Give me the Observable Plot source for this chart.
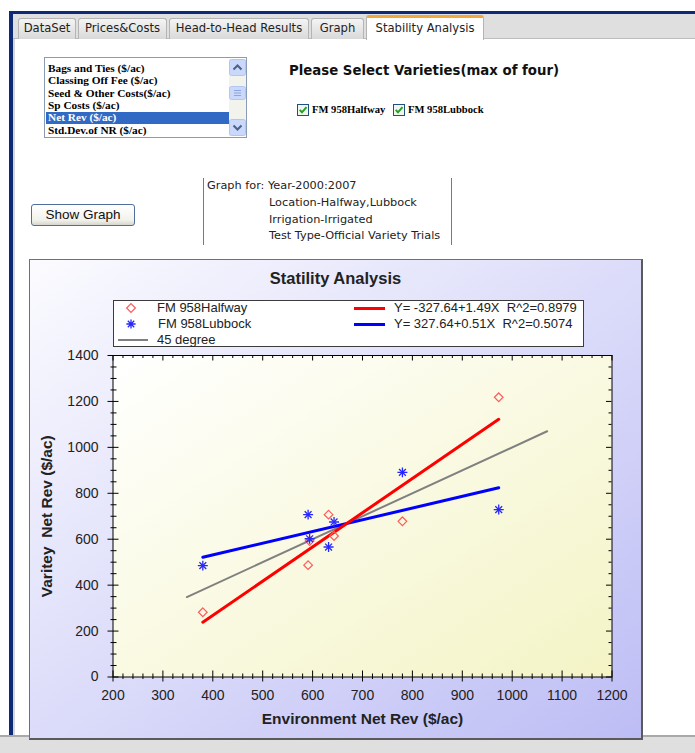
<!DOCTYPE html>
<html>
<head>
<meta charset="utf-8">
<script src="https://cdn.jsdelivr.net/npm/d3@7"></script>
<script src="https://cdn.jsdelivr.net/npm/@observablehq/plot@0.6"></script>
<style>
html,body{margin:0;padding:0;}
body{width:695px;height:753px;overflow:hidden;background:#fff;position:relative;font-family:"DejaVu Sans",Verdana,sans-serif;color:#222;}
.a{position:absolute;}
.tab{position:absolute;top:18px;height:21px;box-sizing:border-box;border:1px solid #b4b4b4;border-bottom:none;border-radius:3px 3px 0 0;background:linear-gradient(#f4f4f4,#d9d9d9);font-size:11.6px;line-height:19px;text-align:center;color:#222;white-space:nowrap;}
.tab.active{top:15px;height:25px;background:#fff;border-top:3px solid #f3a83b;line-height:20px;z-index:2;}
.lb{position:absolute;left:48px;font-family:"Liberation Serif","Times New Roman",serif;font-weight:bold;font-size:11.3px;line-height:12.4px;white-space:nowrap;color:#000;}
.cb{position:absolute;font-family:"Liberation Serif","Times New Roman",serif;font-weight:bold;font-size:10.6px;line-height:12.4px;white-space:nowrap;color:#000;}
.info{position:absolute;font-size:11.3px;line-height:14px;white-space:nowrap;color:#222;}
.leg{position:absolute;font-family:"Liberation Sans",Arial,sans-serif;font-size:13px;white-space:pre;color:#222;line-height:16px;}
</style>
</head>
<body>
<!-- window frame -->
<div class="a" style="left:12px;top:13px;width:683px;height:25px;background:#dfdfdf;border-bottom:1px solid #bdbdbd;"></div>
<div class="a" style="left:9px;top:11px;width:686px;height:2.5px;background:#0c2a78;"></div>
<div class="a" style="left:9px;top:11px;width:3.5px;height:726px;background:#0c2a78;"></div>
<div class="a" style="left:12.5px;top:39px;width:2px;height:698px;background:#d6d6d6;"></div>

<!-- tabs -->
<div class="tab" style="left:18px;width:58px;">DataSet</div>
<div class="tab" style="left:78px;width:89px;">Prices&amp;Costs</div>
<div class="tab" style="left:169px;width:140px;">Head-to-Head Results</div>
<div class="tab" style="left:311px;width:53px;">Graph</div>
<div class="tab active" style="left:366px;width:118px;">Stability Analysis</div>

<!-- list box -->
<div class="a" style="left:44px;top:57px;width:203px;height:81px;box-sizing:border-box;border:1px solid #8a9bb5;background:#fff;"></div>
<div class="a" style="left:46px;top:111.5px;width:183px;height:12.4px;background:#316ac5;"></div>
<div class="lb" style="top:61.8px;">Bags and Ties ($/ac)</div>
<div class="lb" style="top:74.2px;">Classing Off Fee ($/ac)</div>
<div class="lb" style="top:86.6px;">Seed &amp; Other Costs($/ac)</div>
<div class="lb" style="top:99px;">Sp Costs ($/ac)</div>
<div class="lb" style="top:111.4px;color:#fff;">Net Rev ($/ac)</div>
<div class="lb" style="top:123.8px;">Std.Dev.of NR ($/ac)</div>
<svg class="a" style="left:229px;top:59px;" width="17" height="77">
  <rect x="0" y="0" width="17" height="77" fill="#f3f3ee"/>
  <rect x="0.5" y="0.5" width="16" height="16" rx="2" fill="#c9d8fb" stroke="#b3c6f2"/>
  <path d="M4.5 10.5 L8.5 6.5 L12.5 10.5" fill="none" stroke="#4d6185" stroke-width="2"/>
  <rect x="0.5" y="27.5" width="16" height="13" rx="2" fill="#c9d8fb" stroke="#b3c6f2"/>
  <path d="M5 31.5 H12 M5 34 H12 M5 36.5 H12" stroke="#8ea6dc" stroke-width="1"/>
  <rect x="0.5" y="60.5" width="16" height="16" rx="2" fill="#c9d8fb" stroke="#b3c6f2"/>
  <path d="M4.5 66.5 L8.5 70.5 L12.5 66.5" fill="none" stroke="#4d6185" stroke-width="2"/>
</svg>

<!-- variety selection -->
<div class="a" style="left:289px;top:63px;font-size:13.3px;font-weight:bold;white-space:nowrap;color:#111;">Please Select Varieties(max of four)</div>
<svg class="a" style="left:297px;top:104px;" width="12" height="12"><rect x="0.5" y="0.5" width="11" height="11" fill="#f4f4ee" stroke="#1c5180"/><path d="M2.8 5.8 L5 8.3 L9.5 3.2" fill="none" stroke="#21a121" stroke-width="2"/></svg>
<div class="cb" style="left:312px;top:104px;">FM 958Halfway</div>
<svg class="a" style="left:393px;top:104px;" width="12" height="12"><rect x="0.5" y="0.5" width="11" height="11" fill="#f4f4ee" stroke="#1c5180"/><path d="M2.8 5.8 L5 8.3 L9.5 3.2" fill="none" stroke="#21a121" stroke-width="2"/></svg>
<div class="cb" style="left:408px;top:104px;">FM 958Lubbock</div>

<!-- button -->
<div class="a" style="left:31px;top:204px;width:104px;height:22px;box-sizing:border-box;border:1px solid #4f6f9a;border-radius:3px;background:linear-gradient(#ffffff,#f2f2ec 75%,#d6d6ce);font-family:'Liberation Sans',Arial,sans-serif;font-size:13.5px;line-height:20px;text-align:center;color:#111;">Show Graph</div>

<!-- info box -->
<div class="a" style="left:202.5px;top:178px;width:1.5px;height:67px;background:#5a7cc0;"></div>
<div class="a" style="left:450.5px;top:178px;width:1.5px;height:67px;background:#5a7cc0;"></div>
<div class="info" style="left:207px;top:179px;">Graph for: Year-2000:2007</div>
<div class="info" style="left:269px;top:196px;">Location-Halfway,Lubbock</div>
<div class="info" style="left:269px;top:212.5px;">Irrigation-Irrigated</div>
<div class="info" style="left:269px;top:229px;">Test Type-Official Variety Trials</div>

<!-- bottom bar -->
<div class="a" style="left:0px;top:735px;width:695px;height:18px;background:#dfdfdf;border-top:2px solid #a9a9a9;box-sizing:border-box;"></div>

<!-- chart panel -->
<div id="panel" class="a" style="left:29px;top:259px;width:611px;height:478px;border-left:1px solid #707070;border-top:1px solid #707070;border-right:2px solid #5a5a5a;border-bottom:2px solid #5a5a5a;background:linear-gradient(to bottom right,#fbfbff,#bdbdf5);z-index:3;"></div>
<div class="a" style="left:30px;top:269px;width:611px;text-align:center;font-family:'Liberation Sans',Arial,sans-serif;font-weight:bold;font-size:16.5px;line-height:18px;color:#222;z-index:4;">Statility Analysis</div>
<div id="legend" class="a" style="left:113px;top:300px;width:471px;height:47px;box-sizing:border-box;border:1px solid #3c3c3c;background:#fff;z-index:4;"></div>

<script>
// ---- data ----
const environments = [380, 591, 594, 632, 643, 780, 973];      // Environment Net Rev ($/ac)
const halfwayNR   = [282, 487, 592, 707, 614, 678, 1218];      // FM 958Halfway
const lubbockNR   = [485, 707, 602, 566, 675, 891, 729];       // FM 958Lubbock
const varieties   = ["FM 958Halfway", "FM 958Lubbock"];
const intercepts  = [-327.64, 327.64];
const slopes      = [1.49, 0.51];
const rSquared    = [0.8979, 0.5074];
const lineColors  = ["#ff0000", "#0000ff"];
const fortyFiveRange = [348, 1070];
const xTickValues = [200, 300, 400, 500, 600, 700, 800, 900, 1000, 1100, 1200];
const yTickValues = [0, 200, 400, 600, 800, 1000, 1200, 1400];
const xMinorStep = 20, yMinorStep = 50;

// ---- derived tables ----
const halfwayPts = environments.map((x, i) => ({x, y: halfwayNR[i]}));
const lubbockPts = environments.map((x, i) => ({x, y: lubbockNR[i]}));
const xr = d3.extent(environments);
const fitLines = varieties.map((v, i) => xr.map(x => ({x, y: intercepts[i] + slopes[i] * x})));
const fortyFive = fortyFiveRange.map(v => ({x: v, y: v}));
const xMinor = d3.range(xTickValues[0], xTickValues[xTickValues.length - 1] + 1, xMinorStep).filter(v => !xTickValues.includes(v));
const yMinor = d3.range(yTickValues[0], yTickValues[yTickValues.length - 1] + 1, yMinorStep).filter(v => !yTickValues.includes(v));

const W = 611, H = 478, mL = 82.5, mR = 29.5, mT = 95, mB = 61.5;
const iW = W - mL - mR, iH = H - mT - mB;
const tk = "#000";

const chart = Plot.plot({
  width: W, height: H,
  marginLeft: mL, marginRight: mR, marginTop: mT, marginBottom: mB,
  style: {background: "transparent", overflow: "visible", fontFamily: "'Liberation Sans', Arial, sans-serif", color: "#222", whiteSpace: "pre"},
  x: {domain: [200, 1200], label: null},
  y: {domain: [0, 1400], label: null},
  marks: [
    Plot.frame({fill: "url(#plotBg)", stroke: "none"}),
    Plot.line(fortyFive, {x: "x", y: "y", stroke: "#808080", strokeWidth: 2}),
    Plot.line(fitLines[1], {x: "x", y: "y", stroke: lineColors[1], strokeWidth: 3}),
    Plot.line(fitLines[0], {x: "x", y: "y", stroke: lineColors[0], strokeWidth: 3}),
    Plot.dot(halfwayPts, {x: "x", y: "y", symbol: "diamond2", r: 3.9, stroke: "#ff5a5a", fill: "none", strokeWidth: 1.2}),
    Plot.dot(lubbockPts, {x: "x", y: "y", symbol: "plus", r: 3.3, stroke: "#2626ff", strokeWidth: 1.3}),
    Plot.dot(lubbockPts, {x: "x", y: "y", symbol: "times", r: 3.2, stroke: "#2626ff", strokeWidth: 1.3}),
    Plot.frame({stroke: "#000", strokeWidth: 1}),
    // bottom ticks (cross the axis)
    Plot.ruleX(xTickValues, {x: d => d, insetTop: iH - 11, dy: 5, stroke: tk}),
    Plot.ruleX(xMinor, {x: d => d, insetTop: iH - 5.5, dy: 2.5, stroke: tk}),
    // top ticks (inside)
    Plot.ruleX(xTickValues, {x: d => d, insetBottom: iH - 5.5, stroke: tk}),
    Plot.ruleX(xMinor, {x: d => d, insetBottom: iH - 3, stroke: tk}),
    // left ticks (cross the axis)
    Plot.ruleY(yTickValues, {y: d => d, insetRight: iW - 11, dx: -5, stroke: tk}),
    Plot.ruleY(yMinor, {y: d => d, insetRight: iW - 6, dx: -2, stroke: tk}),
    // right ticks (inside)
    Plot.ruleY(yTickValues, {y: d => d, insetLeft: iW - 5.5, stroke: tk}),
    Plot.ruleY(yMinor, {y: d => d, insetLeft: iW - 3, stroke: tk}),
    Plot.axisX({ticks: xTickValues, tickSize: 0, tickPadding: 13.5, fontSize: 14, tickFormat: d => String(d), fill: "#222", label: null}),
    Plot.axisY({ticks: yTickValues, tickSize: 0, tickPadding: 14.5, fontSize: 14, tickFormat: d => String(d), fill: "#222", label: null}),
    Plot.text(["Environment Net Rev ($/ac)"], {text: d => d, frameAnchor: "bottom", dy: 42, fontSize: 15.5, fontWeight: "bold", fill: "#222", lineAnchor: "middle"}),
    Plot.text(["Varitey  Net Rev ($/ac)"], {text: d => d, frameAnchor: "left", dx: -65.5, rotate: -90, textAnchor: "middle", fontSize: 15.5, fontWeight: "bold", fill: "#222"})
  ]
});

// plot-area gradient
const defs = d3.select(chart).insert("defs", ":first-child");
const grad = defs.append("linearGradient").attr("id", "plotBg").attr("x1", 0).attr("y1", 0).attr("x2", 1).attr("y2", 1);
grad.append("stop").attr("offset", 0).attr("stop-color", "#ffffff");
grad.append("stop").attr("offset", 1).attr("stop-color", "#f4f4c6");
chart.style.position = "absolute";
chart.style.left = "0px";
chart.style.top = "0px";
document.getElementById("panel").appendChild(chart);

// legend
const legend = document.getElementById("legend");
function eq(i) {
  const b = intercepts[i].toFixed(2), m = slopes[i].toFixed(2), r = rSquared[i].toFixed(4);
  return `Y= ${b}+${m}X  R^2=${r}`;
}
const rowTop = [0, 16, 32];
legend.innerHTML = `
  <svg style="position:absolute;left:11px;top:1px" width="12" height="12"><path d="M6 1.6 L10.4 6 L6 10.4 L1.6 6 Z" fill="none" stroke="#ff5a5a" stroke-width="1.2"/></svg>
  <div class="leg" style="left:43px;top:${rowTop[0]-1}px">${varieties[0]}</div>
  <svg style="position:absolute;left:11px;top:17px" width="12" height="12"><path d="M6 1.4 V10.6 M1.4 6 H10.6 M2.8 2.8 L9.2 9.2 M9.2 2.8 L2.8 9.2" stroke="#2626ff" stroke-width="1.3"/></svg>
  <div class="leg" style="left:44px;top:${rowTop[1]-1}px">${varieties[1]}</div>
  <div style="position:absolute;left:4px;top:37.5px;width:30px;height:2px;background:#808080"></div>
  <div class="leg" style="left:43px;top:${rowTop[2]-1}px">45 degree</div>
  <div style="position:absolute;left:240px;top:5.5px;width:31px;height:3px;background:${lineColors[0]}"></div>
  <div class="leg" style="left:280px;top:${rowTop[0]-1}px">${eq(0)}</div>
  <div style="position:absolute;left:240px;top:21.5px;width:31px;height:3px;background:${lineColors[1]}"></div>
  <div class="leg" style="left:280px;top:${rowTop[1]-1}px">${eq(1)}</div>
`;
</script>
</body>
</html>
